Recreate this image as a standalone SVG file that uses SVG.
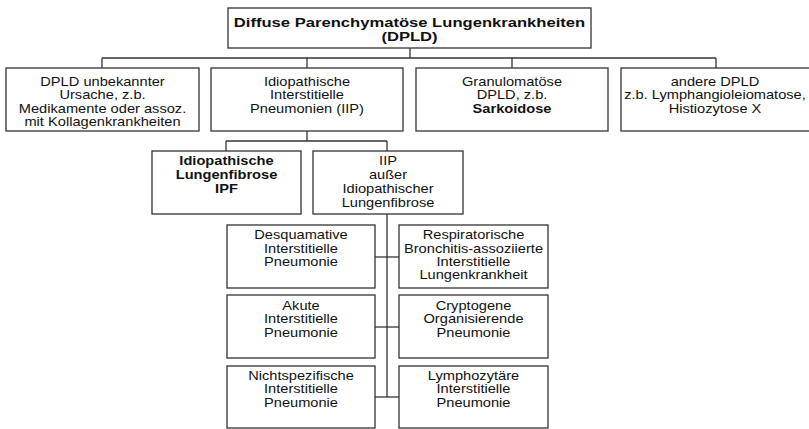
<svg xmlns="http://www.w3.org/2000/svg" width="809" height="429" viewBox="0 0 809 429">
<style>
rect{fill:#fff;stroke:#333;stroke-width:1.3}
.c line{stroke:#333;stroke-width:1.3}
text{font-family:"Liberation Sans",Arial,sans-serif;font-size:12px;fill:#111;text-anchor:middle}
.b{font-weight:bold}
.ti{font-size:13.5px;font-weight:bold}
</style>
<rect x="0" y="0" width="809" height="429" style="fill:#fff;stroke:none"/>
<g class="c" id="connectors">
<line x1="410" y1="48" x2="410" y2="58"/>
<line x1="102" y1="58" x2="716" y2="58"/>
<line x1="102" y1="58" x2="102" y2="68"/>
<line x1="307" y1="58" x2="307" y2="68"/>
<line x1="512" y1="58" x2="512" y2="68"/>
<line x1="716" y1="58" x2="716" y2="68"/>
<line x1="307" y1="131" x2="307" y2="141"/>
<line x1="226" y1="141" x2="387" y2="141"/>
<line x1="226" y1="141" x2="226" y2="151"/>
<line x1="387" y1="141" x2="387" y2="151"/>
<line x1="387" y1="214" x2="387" y2="397"/>
<line x1="375" y1="257" x2="399" y2="257"/>
<line x1="375" y1="327" x2="399" y2="327"/>
<line x1="375" y1="397" x2="399" y2="397"/>
</g>
<g id="n-dpld">
<rect x="228" y="8" width="363" height="40"/>
<g transform="translate(409.5 0) scale(1.23 1)"><text class="ti" x="0" y="27">Diffuse Parenchymatöse Lungenkrankheiten</text><text class="ti" x="0" y="41">(DPLD)</text></g>
</g>
<g id="n-unbekannt">
<rect x="6" y="68" width="193" height="63"/>
<g transform="translate(102.5 0) scale(1.22 1)"><text x="0" y="86">DPLD unbekannter</text><text x="0" y="99.3">Ursache, z.b.</text><text x="0" y="112.7">Medikamente oder assoz.</text><text x="0" y="126">mit Kollagenkrankheiten</text></g>
</g>
<g id="n-iip">
<rect x="211" y="68" width="192" height="63"/>
<g transform="translate(307 0) scale(1.22 1)"><text x="0" y="86">Idiopathische</text><text x="0" y="99.3">Interstitielle</text><text x="0" y="112.7">Pneumonien (IIP)</text></g>
</g>
<g id="n-granulomatoes">
<rect x="416" y="68" width="192" height="63"/>
<g transform="translate(512 0) scale(1.22 1)"><text x="0" y="86">Granulomatöse</text><text x="0" y="99.3">DPLD, z.b.</text><text class="b" x="0" y="112.7">Sarkoidose</text></g>
</g>
<g id="n-andere">
<rect x="621" y="68" width="192" height="63"/>
<g transform="translate(715 0) scale(1.22 1)"><text x="0" y="86">andere DPLD</text><text x="0" y="99.3">z.b. Lymphangioleiomatose,</text><text x="0" y="112.7">Histiozytose X</text></g>
</g>
<g id="n-ipf">
<rect x="152" y="151" width="149" height="63"/>
<g transform="translate(226.5 0) scale(1.22 1)"><text class="b" x="0" y="165.5">Idiopathische</text><text class="b" x="0" y="179.2">Lungenfibrose</text><text class="b" x="0" y="193">IPF</text></g>
</g>
<g id="n-iip-ausser">
<rect x="313" y="151" width="150" height="63"/>
<g transform="translate(388 0) scale(1.22 1)"><text x="0" y="165">IIP</text><text x="0" y="179">außer</text><text x="0" y="193.2">Idiopathischer</text><text x="0" y="207.2">Lungenfibrose</text></g>
</g>
<g id="n-dip">
<rect x="227" y="225" width="148" height="63"/>
<g transform="translate(301 0) scale(1.22 1)"><text x="0" y="239.3">Desquamative</text><text x="0" y="252.7">Interstitielle</text><text x="0" y="266">Pneumonie</text></g>
</g>
<g id="n-rbild">
<rect x="399" y="225" width="149" height="63"/>
<g transform="translate(473.5 0) scale(1.22 1)"><text x="0" y="239.3">Respiratorische</text><text x="0" y="252.7">Bronchitis-assoziierte</text><text x="0" y="266">Interstitielle</text><text x="0" y="279.3">Lungenkrankheit</text></g>
</g>
<g id="n-aip">
<rect x="227" y="295" width="148" height="63"/>
<g transform="translate(301 0) scale(1.22 1)"><text x="0" y="310">Akute</text><text x="0" y="323.3">Interstitielle</text><text x="0" y="336.7">Pneumonie</text></g>
</g>
<g id="n-cop">
<rect x="399" y="295" width="149" height="63"/>
<g transform="translate(473.5 0) scale(1.22 1)"><text x="0" y="310">Cryptogene</text><text x="0" y="323.3">Organisierende</text><text x="0" y="336.7">Pneumonie</text></g>
</g>
<g id="n-nsip">
<rect x="227" y="366" width="148" height="62"/>
<g transform="translate(301 0) scale(1.22 1)"><text x="0" y="380">Nichtspezifische</text><text x="0" y="393.3">Interstitielle</text><text x="0" y="406.7">Pneumonie</text></g>
</g>
<g id="n-lip">
<rect x="399" y="366" width="149" height="62"/>
<g transform="translate(473.5 0) scale(1.22 1)"><text x="0" y="380">Lymphozytäre</text><text x="0" y="393.3">Interstitielle</text><text x="0" y="406.7">Pneumonie</text></g>
</g>
</svg>
